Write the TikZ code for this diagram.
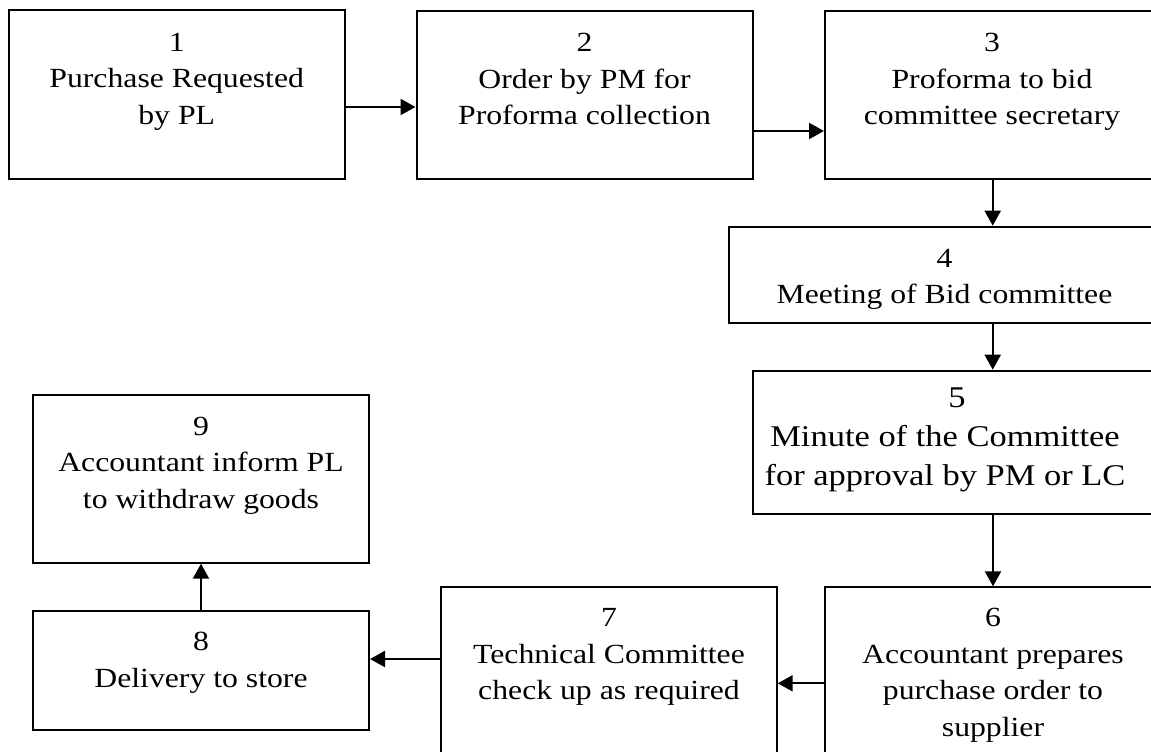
\documentclass[tikz,border=0pt]{standalone}
\usepackage{fontspec}
\setmainfont{Liberation Serif}
\usetikzlibrary{arrows.meta,calc}
\tikzset{
  box/.style={draw=black, line width=2pt, rectangle, inner sep=0pt, fill=none},
  lbl/.style={align=center, inner sep=0pt, anchor=north, xscale=1.145,
    font=\fontsize{27.7}{36.5}\selectfont},
  lblbig/.style={lbl, font=\fontsize{30.1}{38.7}\selectfont},
  arr/.style={line width=2.2pt, -{Triangle[length=15pt,width=16pt]}}
}
\begin{document}
\begin{tikzpicture}[x=1pt,y=1pt]
\useasboundingbox (0,0) rectangle (1151,-752);
\clip (0,0) rectangle (1151,-752);
\fill[white] (0,0) rectangle (1151,-752);
% boxes
\node[box, minimum width=336.5pt, minimum height=168.5pt] (b1) at (176.75,-94.75) {};
\node[box, minimum width=336.5pt, minimum height=168pt] (b2) at (584.75,-95) {};
\node[box, minimum width=334pt, minimum height=168pt] (b3) at (992,-95) {};
\node[box, minimum width=431pt, minimum height=96pt] (b4) at (944.5,-274.7) {};
\node[box, minimum width=407.3pt, minimum height=143.6pt] (b5) at (956.35,-442.5) {};
\node[box, minimum width=336pt, minimum height=187.7pt] (b6) at (993,-681.15) {};
\node[box, minimum width=336pt, minimum height=187.7pt] (b7) at (608.7,-681.15) {};
\node[box, minimum width=336pt, minimum height=119.3pt] (b8) at (201,-670.35) {};
\node[box, minimum width=336pt, minimum height=167.7pt] (b9) at (201,-478.85) {};
% labels
\node[lbl] (l1) at (176.7,-33) {1\\Purchase Requested\\by PL};
\node[lbl] (l2) at (584.5,-33) {2\\Order by PM for\\Proforma collection};
\node[lbl] (l3) at (992,-33) {3\\Proforma to bid\\committee secretary};
\node[lbl] (l4) at (944.5,-248.8) {4\\Meeting of Bid committee};
\node[lblbig] (l5) at (945,-388) {\hspace*{21pt}5\\Minute of the Committee\\for approval by PM or LC};
\node[lbl] (l6) at (993,-608.2) {6\\Accountant prepares\\purchase order to\\supplier};
\node[lbl] (l7) at (609,-608.2) {7\\Technical Committee\\check up as required};
\node[lbl] (l8) at (201,-632.2) {8\\Delivery to store};
\node[lbl] (l9) at (201,-416.5) {9\\Accountant inform PL\\to withdraw goods};
% connectors
\draw[arr] ([yshift=-12.25pt]b1.east) -- ([yshift=-12.25pt]b1.east -| b2.west);
\draw[arr] ([yshift=-36pt]b2.east) -- ([yshift=-36pt]b2.east -| b3.west);
\draw[arr] ([xshift=0.7pt]b3.south) -- ([xshift=0.7pt]b3.south |- b4.north);
\draw[arr] ([xshift=0.7pt]b3.south |- b4.south) -- ([xshift=0.7pt]b3.south |- b5.north);
\draw[arr] (b6.north |- b5.south) -- (b6.north);
\draw[arr] ([yshift=-2.15pt]b6.west) -- ([yshift=-2.15pt]b6.west -| b7.east);
\draw[arr] ([yshift=11.35pt]b8.east -| b7.west) -- ([yshift=11.35pt]b8.east);
\draw[arr] (b8.north) -- (b9.south);
\end{tikzpicture}
\end{document}
